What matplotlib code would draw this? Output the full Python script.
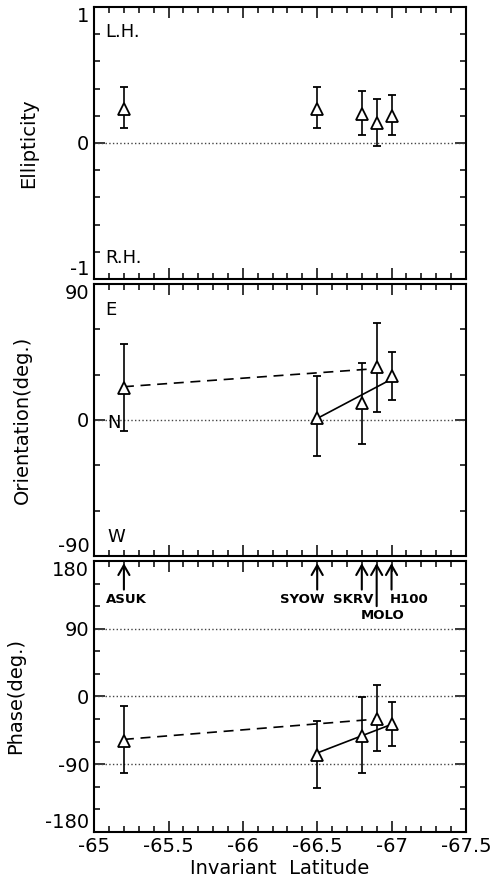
import matplotlib.pyplot as plt
from matplotlib.ticker import MultipleLocator

plt.rcParams['font.family'] = ['DejaVu Sans']
plt.rcParams['axes.unicode_minus'] = False

# Stations and their invariant latitudes
stations = ['ASUK', 'SYOW', 'SKRV', 'MOLO', 'H100']
latitude = [-65.2, -66.5, -66.8, -66.9, -67.0]

# Ellipticity with error bar ends
ellipticity = [0.25, 0.25, 0.215, 0.145, 0.195]
ell_upper = [0.41, 0.41, 0.38, 0.32, 0.35]
ell_lower = [0.11, 0.11, 0.06, -0.02, 0.055]

# Orientation (deg.)
orientation = [21, 1, 11, 35, 29]
ori_upper = [50, 29, 38, 64, 45]
ori_lower = [-7, -24, -16, 5.5, 13]

# Phase (deg.)
phase = [-59, -78, -52, -30, -37]
ph_upper = [-13, -33, -1, 15, -7]
ph_lower = [-101, -122, -101, -73, -66]

# trend lines
ori_dash_x = [-65.2, -66.9]
ori_dash_y = [22, 34]
ori_solid_x = [-66.5, -67.0]
ori_solid_y = [1, 27]
ph_dash_x = [-65.2, -66.9]
ph_dash_y = [-57, -30]
ph_solid_x = [-66.5, -67.0]
ph_solid_y = [-75, -37]

fig = plt.figure(figsize=(4.93, 8.89), dpi=100)
left, width = 0.191, 0.754
ax1 = fig.add_axes([left, 0.6862, width, 0.306])
ax2 = fig.add_axes([left, 0.3746, width, 0.306])
ax3 = fig.add_axes([left, 0.0641, width, 0.3049])


def errs(vals, lo, hi):
    return [[v - l for v, l in zip(vals, lo)], [h - v for v, h in zip(vals, hi)]]


def style(ax, ymin, ymax, yticks, yminor):
    ax.set_xlim(-65, -67.5)
    ax.set_ylim(ymin, ymax)
    ax.xaxis.set_major_locator(MultipleLocator(0.5))
    ax.xaxis.set_minor_locator(MultipleLocator(0.1))
    ax.set_yticks(yticks)
    ax.yaxis.set_minor_locator(MultipleLocator(yminor))
    ax.tick_params(which='both', direction='in', top=True, right=True,
                   labelsize=14, width=1.1)
    ax.tick_params(which='major', length=8)
    ax.tick_params(which='minor', length=4)
    for s in ax.spines.values():
        s.set_linewidth(1.5)
    labs = ax.get_yticklabels()
    labs[0].set_va('bottom')
    labs[-1].set_va('top')


def points(ax, vals, lo, hi):
    ax.errorbar(latitude, vals, yerr=errs(vals, lo, hi), fmt='^', ms=8,
                mfc='white', mec='black', mew=1.3, ecolor='black',
                elinewidth=1.2, capsize=3, capthick=1.2, zorder=3)


# Ellipticity
ax1.axhline(0, color='#444444', ls=':', lw=1.0)
points(ax1, ellipticity, ell_lower, ell_upper)
style(ax1, -1, 1, [-1, 0, 1], 0.2)
ax1.set_xticklabels([])
ax1.set_ylabel('Ellipticity', fontsize=14)
ax1.yaxis.set_label_coords(-0.15, 0.5)
ax1.text(0.03, 0.908, 'L.H.', transform=ax1.transAxes, fontsize=13, va='center')
ax1.text(0.03, 0.077, 'R.H.', transform=ax1.transAxes, fontsize=13, va='center')

# Orientation
ax2.axhline(0, color='#444444', ls=':', lw=1.0)
ax2.plot(ori_dash_x, ori_dash_y, color='black', lw=1.2, ls=(0, (6, 4)))
ax2.plot(ori_solid_x, ori_solid_y, color='black', lw=1.2)
points(ax2, orientation, ori_lower, ori_upper)
style(ax2, -90, 90, [-90, 0, 90], 30)
ax2.set_xticklabels([])
ax2.set_ylabel('Orientation(deg.)', fontsize=14)
ax2.yaxis.set_label_coords(-0.167, 0.5)
ax2.text(0.03, 0.904, 'E', transform=ax2.transAxes, fontsize=13, va='center')
ax2.text(0.035, 0.49, 'N', transform=ax2.transAxes, fontsize=13, va='center')
ax2.text(0.035, 0.07, 'W', transform=ax2.transAxes, fontsize=13, va='center')

# Phase
for yv in [90, 0, -90]:
    ax3.axhline(yv, color='#444444', ls=':', lw=1.0)
ax3.plot(ph_dash_x, ph_dash_y, color='black', lw=1.2, ls=(0, (6, 4)))
ax3.plot(ph_solid_x, ph_solid_y, color='black', lw=1.2)
points(ax3, phase, ph_lower, ph_upper)
style(ax3, -180, 180, [-180, -90, 0, 90, 180], 30)
ax3.set_xticks([-65, -65.5, -66, -66.5, -67, -67.5])
ax3.set_xticklabels(['-65', '-65.5', '-66', '-66.5', '-67', '-67.5'])
ax3.set_ylabel('Phase(deg.)', fontsize=14)
ax3.yaxis.set_label_coords(-0.185, 0.5)
ax3.set_xlabel('Invariant  Latitude', fontsize=14, labelpad=2)

# station arrows and names
tails = [142, 142, 142, 120, 142]
label_x = [-65.22, -66.40, -66.74, -66.94, -67.12]
label_y = [129, 129, 129, 107, 129]
for st, lat, tail, lx, ly in zip(stations, latitude, tails, label_x, label_y):
    ax3.annotate('', xy=(lat, 177), xytext=(lat, tail),
                 arrowprops=dict(arrowstyle='->,head_length=0.7,head_width=0.4',
                                 lw=1.5, color='black', shrinkA=0, shrinkB=0))
    ax3.text(lx, ly, st, fontsize=9.5, fontweight='bold', ha='center', va='center')

fig.savefig('out.png', dpi=100)
